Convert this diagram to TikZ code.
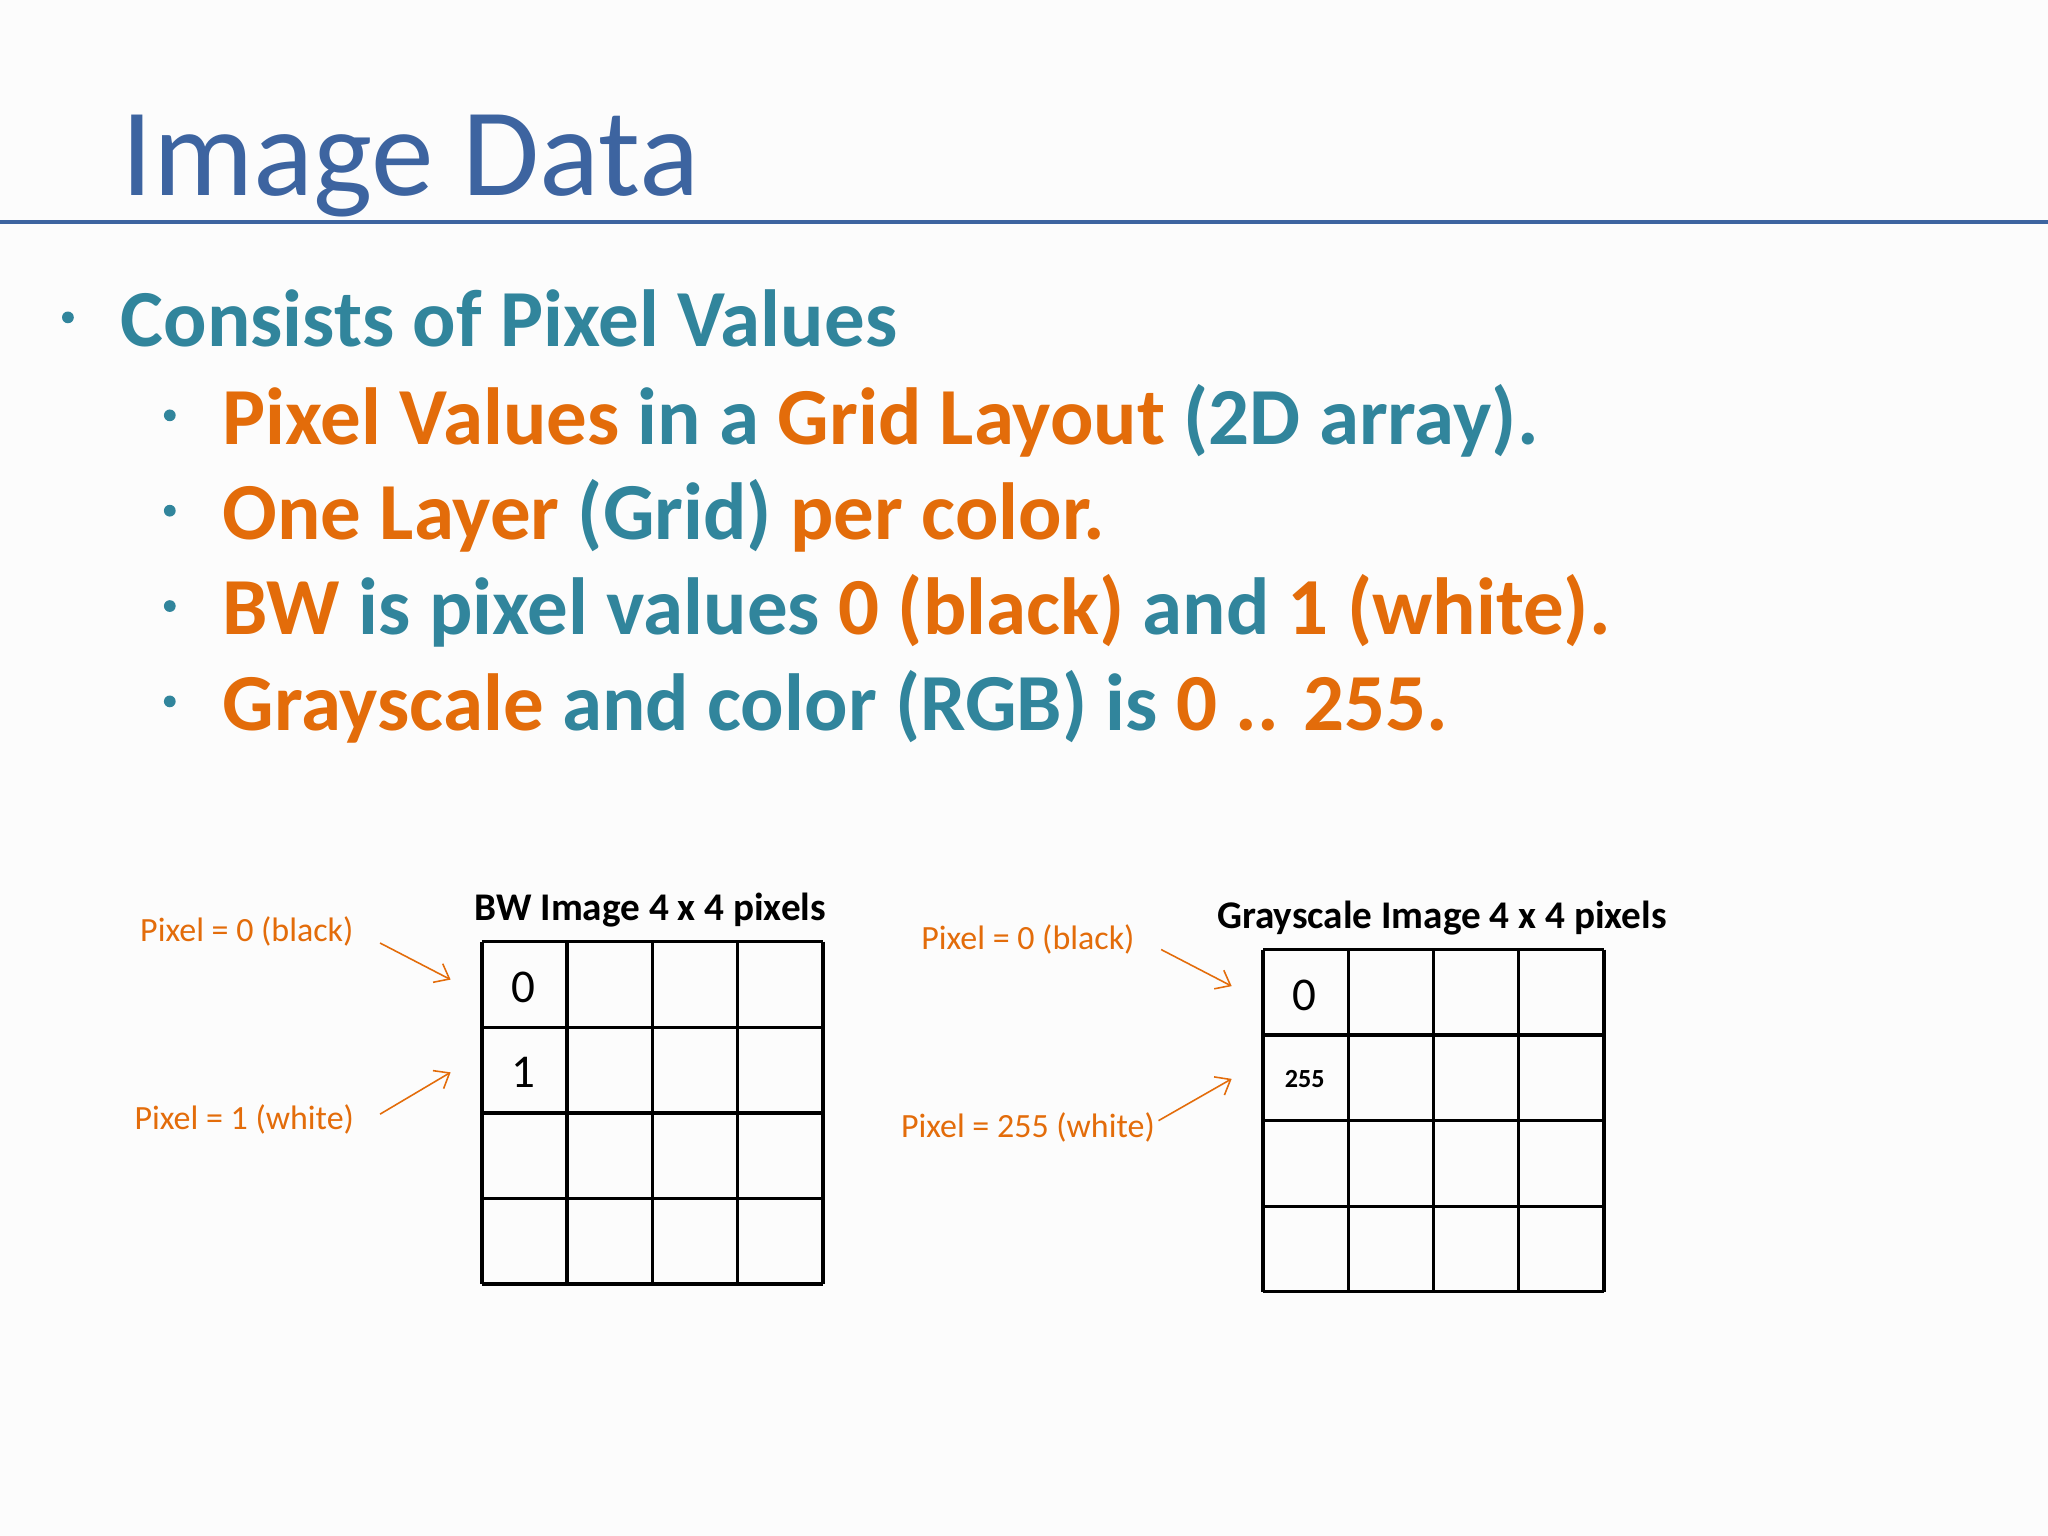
\documentclass[tikz,border=0pt]{standalone}
\usepackage{fontspec}
\setmainfont{Carlito}
\usetikzlibrary{arrows.meta}
\begin{document}
\begin{tikzpicture}[x=0.5pt,y=-0.5pt,
  txt/.style={anchor=base west,inner sep=0pt},
  lbl/.style={inner sep=0pt,text=org,font=\fontsize{13}{15}\selectfont},
  arr/.style={draw=org,-{Straight Barb[length=5pt,width=8pt]},line width=0.6pt},
  gridline/.style={line width=1.3pt}]
\definecolor{ttl}{HTML}{3D64A0}
\definecolor{teal}{HTML}{31859C}
\definecolor{org}{HTML}{E36C0A}
\fill[white!98!gray] (0,0) rectangle (1568,1176);
\useasboundingbox (0,0) rectangle (1568,1176);
\node[txt,text=ttl,font=\fontsize{48}{56}\selectfont] (title) at (93,150) {Image Data};
\draw[ttl,line width=1.2pt] (0,170) -- (1568,170);
\begin{scope}[font=\bfseries\fontsize{31}{36}\selectfont]
\fill[teal] (52,243) circle (4.5) (130,318) circle (4.5) (130,391) circle (4.5) (130,464) circle (4.5) (130,537) circle (4.5);
\node[txt,text=teal] (b1) at (92,265) {Consists of Pixel Values};
\node[txt,text=teal] (b2) at (170,340) {\textcolor{org}{Pixel Values} in a \textcolor{org}{Grid Layout} (2D array).};
\node[txt,text=teal] (b3) at (170,413) {\textcolor{org}{One Layer} (Grid) \textcolor{org}{per color.}};
\node[txt,text=teal] (b4) at (170,486) {\textcolor{org}{BW} is pixel values \textcolor{org}{0 (black)} and \textcolor{org}{1 (white).}};
\node[txt,text=teal] (b5) at (170,559) {\textcolor{org}{Grayscale} and color (RGB) is \textcolor{org}{0 .. 255.}};
\end{scope}
\foreach \i in {0,...,4} {
  \draw[gridline] (369+65.25*\i,721) -- (369+65.25*\i,983);
  \draw[gridline] (369,721+65.5*\i) -- (630,721+65.5*\i);
  \draw[gridline] (967+65.25*\i,727) -- (967+65.25*\i,989);
  \draw[gridline] (967,727+65.5*\i) -- (1228,727+65.5*\i);
}
\node[font=\bfseries\fontsize{15}{18}\selectfont] (t1) at (498,697) {BW Image 4 x 4 pixels};
\node[font=\bfseries\fontsize{15}{18}\selectfont] (t2) at (1104,703) {Grayscale Image 4 x 4 pixels};
\node[font=\fontsize{18}{20}\selectfont] (c1) at (401,756) {0};
\node[font=\fontsize{18}{20}\selectfont] (c2) at (401,821) {1};
\node[font=\fontsize{18}{20}\selectfont] (c3) at (999,762) {0};
\node[font=\bfseries\fontsize{10}{11}\selectfont] (c4) at (999,826) {255};
\node[lbl] (l1) at (189,713) {Pixel = 0 (black)};
\node[lbl] (l2) at (187,857) {Pixel = 1 (white)};
\node[lbl] (l3) at (787,719) {Pixel = 0 (black)};
\node[lbl] (l4) at (787,863) {Pixel = 255 (white)};
\coordinate (a1) at (345,750); \coordinate (a2) at (345,821);
\coordinate (a3) at (943,755); \coordinate (a4) at (943,826);
\draw[arr] (291,722) -- (a1);
\draw[arr] (291,853) -- (a2);
\draw[arr] (889,727) -- (a3);
\draw[arr] (887,858) -- (a4);
\end{tikzpicture}
\end{document}
